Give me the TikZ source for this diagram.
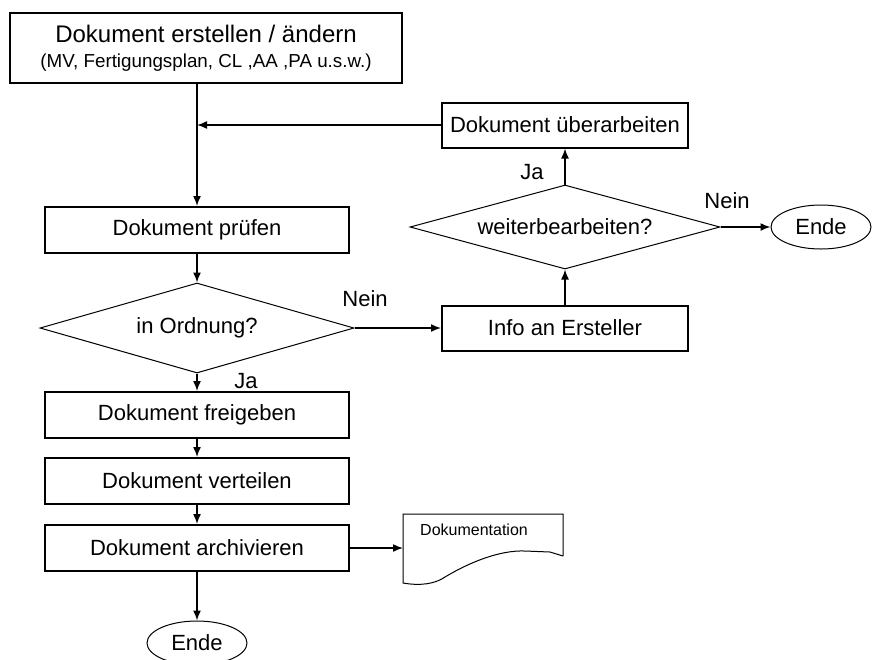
\documentclass[tikz,border=0pt]{standalone}
\usepackage{fontspec}
\setmainfont{Liberation Sans}
\usetikzlibrary{shapes.geometric,arrows.meta}

\begin{document}
\begin{tikzpicture}[x=0.5pt, y=-0.5pt, >={Latex[length=5pt,width=4pt]},
        main/.style = {draw, rectangle, line width=1pt, minimum width=152pt, minimum height=23pt, font=\fontsize{11}{13}\selectfont},
        side/.style = {main, minimum width=123pt, minimum height=22.5pt},
        choice/.style = {draw, diamond, line width=0.5pt, inner sep=0pt, font=\fontsize{11}{13}\selectfont},
        ende/.style = {draw, ellipse, line width=0.5pt, inner sep=0pt, minimum width=50pt, minimum height=22pt, font=\fontsize{11}{13}\selectfont},
        txt/.style = {font=\fontsize{11}{13}\selectfont},
        conn/.style = {->, line width=0.75pt}]
        \useasboundingbox (0,0) rectangle (876,659);

        \node[main, minimum width=196pt, minimum height=35pt, align=center, font=\fontsize{12}{12.5}\selectfont] (1) at (206,48) {Dokument erstellen / ändern\\{\fontsize{9.4}{12.5}\selectfont (MV, Fertigungsplan, CL ,AA ,PA u.s.w.)}};
        \node[main] (2) at (197,230) {Dokument prüfen};
        \node[choice, aspect=3.5, minimum width=157pt, minimum height=45pt] (3) [below of=2, node distance=49pt] {in Ordnung?};
        \node[main] (5) [below of=3, node distance=43.5pt] {Dokument freigeben};
        \node[main] (6) [below of=5, node distance=33pt] {Dokument verteilen};
        \node[main] (7) [below of=6, node distance=33.5pt] {Dokument archivieren};
        \node[ende] (8) [below of=7, node distance=47.5pt] {Ende};

        \node[side] (4) at (565,125) {Dokument überarbeiten};
        \node[choice, aspect=3.7, minimum width=155pt, minimum height=42pt] (9) [below of=4, node distance=51pt] {weiterbearbeiten?};
        \node[side] (10) [below of=9, node distance=50.5pt] {Info an Ersteller};
        \node[ende] (11) [right of=9, node distance=128pt] {Ende};

        % Ablage
        \node[font=\fontsize{8}{9}\selectfont] (12) at (474,530) {Dokumentation};
        \coordinate (13) at (403,548);
        \draw[line width=0.5pt] (563,556) -- (563,514) -- (403,514) -- (403,583)
            .. controls (420,586) and (435,584) .. (445,577)
            .. controls (470,562) and (500,550) .. (525,551) -- (550,552) -- (563,556);

        \node[txt] (14) at (365,299) {Nein};
        \node[txt] (15) at (246,381) {Ja};
        \node[txt] (16) at (532,172) {Ja};
        \node[txt] (17) at (727,201) {Nein};

        \draw[conn] (2 |- 1.south) -- (2);
        \draw[conn] (4) -- (4 -| 2);
        \draw[conn] (2) -- (3);
        \draw[conn] (3) -- (10);
        \draw[conn] (10) -- (9);
        \draw[conn] (9) -- (4);
        \draw[conn] (9) -- (11);
        \draw[conn] (3) -- (5);
        \draw[conn] (5) -- (6);
        \draw[conn] (6) -- (7);
        \draw[conn] (7) -- (7 -| 13);
        \draw[conn] (7) -- (8);

    \end{tikzpicture}
\end{document}
